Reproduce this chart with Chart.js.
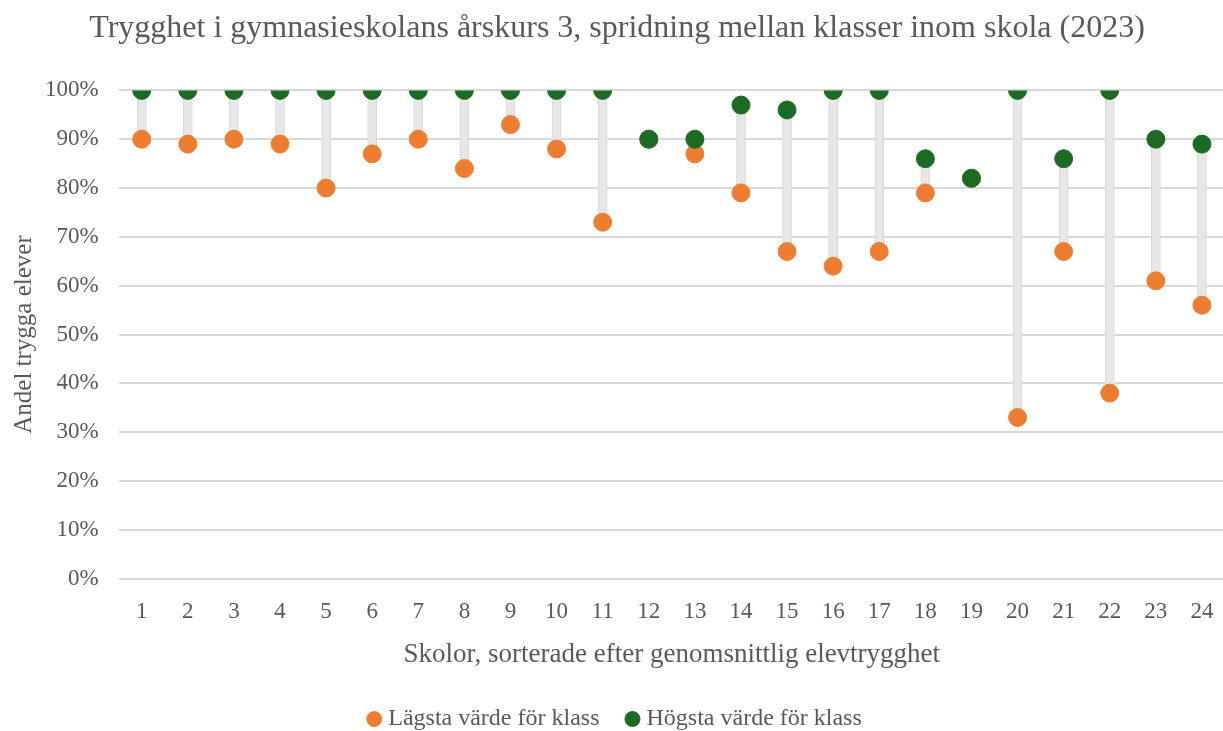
<!DOCTYPE html>
<html>
<head>
<meta charset="utf-8">
<script src="https://cdn.jsdelivr.net/npm/chart.js@4/dist/chart.umd.min.js"></script>
<style>
  html, body { margin: 0; padding: 0; background: #fff; overflow: hidden; }
  #wrap { width: 1223px; height: 731px; overflow: hidden; }
  #box { width: 1235px; height: 731px; }
</style>
</head>
<body>
<div id="wrap"><div id="box"><canvas id="chart"></canvas></div></div>
<script>
// Skolor 1-24, sorterade efter genomsnittlig elevtrygghet
const schools = ["1","2","3","4","5","6","7","8","9","10","11","12","13","14","15","16","17","18","19","20","21","22","23","24"];
const lowest  = [90, 89, 90, 89, 80, 87, 90, 84, 93, 88, 73, 90, 87, 79, 67, 64, 67, 79, 82, 33, 67, 38, 61, 56];
const highest = [100, 100, 100, 100, 100, 100, 100, 100, 100, 100, 100, 90, 90, 97, 96, 100, 100, 86, 82, 100, 86, 100, 90, 89];

const font = "'Liberation Serif', 'Times New Roman', serif";
const grey = "#595959";

// Range bars between lowest and highest
const ranges = lowest.map((v, i) => [v, highest[i]]);

new Chart(document.getElementById("chart"), {
  data: {
    labels: schools,
    datasets: [
      {
        type: "line",
        label: "Lägsta värde för klass",
        data: lowest,
        showLine: false,
        pointRadius: 9,
        pointHoverRadius: 9,
        pointBackgroundColor: "#ED7D31",
        pointBorderColor: "#ED7D31",
        backgroundColor: "#ED7D31",
        borderColor: "#ED7D31",
        order: 2
      },
      {
        type: "line",
        label: "Högsta värde för klass",
        data: highest,
        showLine: false,
        pointRadius: 9,
        pointHoverRadius: 9,
        pointBackgroundColor: "#1B6B24",
        pointBorderColor: "#1B6B24",
        backgroundColor: "#1B6B24",
        borderColor: "#1B6B24",
        order: 1
      },
      {
        type: "bar",
        label: "spann",
        data: ranges,
        barThickness: 9,
        backgroundColor: "#E7E7E7",
        borderColor: "#D6D6D6",
        borderWidth: 1,
        borderSkipped: false,
        order: 3
      }
    ]
  },
  options: {
    responsive: true,
    maintainAspectRatio: false,
    animation: false,
    layout: { padding: { top: 0, right: 6, bottom: -10, left: 5 } },
    plugins: {
      title: {
        display: true,
        text: "Trygghet i gymnasieskolans årskurs 3, spridning mellan klasser inom skola (2023)",
        color: grey,
        font: { family: font, size: 32, weight: "normal" },
        padding: { top: 9, bottom: 43 }
      },
      legend: {
        position: "bottom",
        labels: {
          filter: item => item.datasetIndex !== 2,
          sort: (a, b) => a.datasetIndex - b.datasetIndex,
          usePointStyle: true,
          pointStyle: "circle",
          boxWidth: 4,
          boxHeight: 10.6,
          padding: 31,
          color: grey,
          font: { family: font, size: 24 }
        }
      },
      tooltip: { enabled: false }
    },
    scales: {
      x: {
        offset: true,
        grid: { display: false },
        border: { display: false },
        ticks: { color: grey, font: { family: font, size: 23, lineHeight: 1 }, padding: 14 },
        title: {
          display: true,
          text: "Skolor, sorterade efter genomsnittlig elevtrygghet",
          color: grey,
          font: { family: font, size: 27 },
          padding: { top: 1, bottom: 5 }
        }
      },
      y: {
        min: 0,
        max: 100,
        grid: { color: "#D9D9D9", lineWidth: 2, drawTicks: false },
        border: { display: false },
        ticks: {
          stepSize: 10,
          color: grey,
          font: { family: font, size: 23 },
          padding: 20,
          callback: v => v + "%"
        },
        title: {
          display: true,
          text: "Andel trygga elever",
          color: grey,
          font: { family: font, size: 25 },
          padding: { top: 4, bottom: -14 }
        }
      }
    }
  }
});
</script>
</body>
</html>
